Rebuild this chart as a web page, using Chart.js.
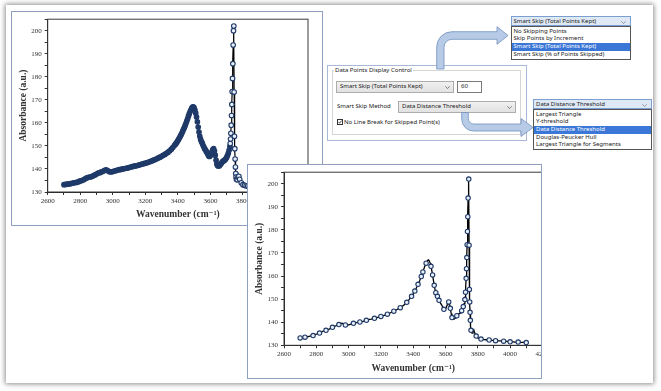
<!DOCTYPE html>
<html>
<head>
<meta charset="utf-8">
<script src="https://cdn.jsdelivr.net/npm/chart.js@4.4.0/dist/chart.umd.min.js"></script>
<style>
html, body { margin: 0; padding: 0; width: 661px; height: 391px; overflow: hidden; background: #fff; }
div, canvas, svg { position: absolute; box-sizing: border-box; }
#sheet { left: 6px; top: 5px; width: 647px; height: 378px; background: #fff; box-shadow: 0 0 5px 1px rgba(0,0,0,0.45); }
.panel { background: #fff; border: 1px solid #8e9fbf; overflow: hidden; }
.ui { font-family: "Noto Sans", sans-serif; font-size: 6px; color: #1a1a1a; white-space: nowrap; }
.combo { border: 1px solid #adadad; background: linear-gradient(#f0f0f0, #e2e2e2); padding-left: 3px; line-height: 9.5px; }
.combo svg { right: 3px; top: 4px; }
.list { background: #fff; border: 1px solid #555; }
.item { position: relative; height: 7.7px; line-height: 7.7px; padding-left: 2px; }
.sel { background: #3b77d6; color: #fff; }
.head { border: 1px solid #7a9fd0; background: #dfe9f6; padding-left: 2px; line-height: 8.5px; }
.head svg { right: 4px; top: 3.5px; }
</style>
</head>
<body>
<div id="sheet"></div>

<div class="panel" style="left:11px; top:11px; width:312px; height:215px;">
  <canvas id="fullChart" width="310" height="213" style="left:0; top:0;"></canvas>
</div>

<div style="left:327px; top:65px; width:200px; height:76px; border:1px solid #a8b8d8; background:#fff;"></div>
<div style="left:332px; top:70px; width:189px; height:65px; border:1px solid #d5d5d5;"></div>
<div class="ui" style="left:334px; top:66px; background:#fff; padding:0 1px; line-height:8px;">Data Points Display Control</div>
<div class="ui combo" style="left:336px; top:81px; width:118px; height:11.5px;">Smart Skip (Total Points Kept)
  <svg width="5" height="3"><polyline points="0.3,0.3 2.5,2.5 4.7,0.3" fill="none" stroke="#555" stroke-width="0.7"/></svg></div>
<div class="ui" style="left:457px; top:81px; width:25px; height:11.5px; border:1px solid #7a7a7a; background:#fff; padding-left:3px; line-height:9.5px;">60</div>
<div class="ui" style="left:337px; top:101px; line-height:11px;">Smart Skip Method</div>
<div class="ui combo" style="left:398px; top:101px; width:118px; height:11.5px;">Data Distance Threshold
  <svg width="5" height="3"><polyline points="0.3,0.3 2.5,2.5 4.7,0.3" fill="none" stroke="#555" stroke-width="0.7"/></svg></div>
<div style="left:336.5px; top:118.5px; width:6px; height:6px; border:1px solid #333; background:#fff;">
  <svg width="4" height="4" style="left:0; top:0;"><polyline points="0.5,2 1.6,3.2 3.6,0.6" fill="none" stroke="#222" stroke-width="0.8"/></svg></div>
<div class="ui" style="left:344px; top:117.5px; line-height:8px;">No Line Break for Skipped Point(s)</div>

<div style="left:510.5px; top:16px; width:120px;">
  <div class="ui head" style="position:relative; height:10px;">Smart Skip (Total Points Kept)
    <svg width="5" height="3"><polyline points="0.3,0.3 2.5,2.5 4.7,0.3" fill="none" stroke="#777" stroke-width="0.7"/></svg></div>
  <div class="ui list" style="position:relative; padding:0.5px 0;">
    <div class="item">No Skipping Points</div>
    <div class="item">Skip Points by Increment</div>
    <div class="item sel">Smart Skip (Total Points Kept)</div>
    <div class="item">Smart Skip (% of Points Skipped)</div>
  </div>
</div>

<div style="left:533px; top:99px; width:119px;">
  <div class="ui head" style="position:relative; height:10px;">Data Distance Threshold
    <svg width="5" height="3"><polyline points="0.3,0.3 2.5,2.5 4.7,0.3" fill="none" stroke="#777" stroke-width="0.7"/></svg></div>
  <div class="ui list" style="position:relative; padding:0.5px 0;">
    <div class="item">Largest Triangle</div>
    <div class="item">Y-threshold</div>
    <div class="item sel">Data Distance Threshold</div>
    <div class="item">Douglas-Peucker Hull</div>
    <div class="item">Largest Triangle for Segments</div>
  </div>
</div>

<svg width="661" height="391" style="left:0; top:0;">
  <path d="M436.7 69 L436.7 47 A15.3 15.3 0 0 1 452 31.7 L497 31.7 L497 26.7 L508 35.5 L497 44.3 L497 39.3 L452 39.3 A8 8 0 0 0 444 47.3 L444 69 Z"
        fill="#b7cbe6" stroke="#6f8fbf" stroke-width="0.8"/>
  <path d="M461.7 112.5 L461.7 119 A12 12 0 0 0 473.7 131 L521 131 L521 136.5 L533 127.5 L521 118.5 L521 124 L473.7 124 A5.4 5.4 0 0 1 468.3 118.6 L468.3 112.5 Z"
        fill="#b7cbe6" stroke="#6f8fbf" stroke-width="0.8"/>
</svg>

<div class="panel" style="left:247px; top:164px; width:295px; height:215px;">
  <canvas id="skipChart" width="312" height="213" style="left:0; top:0;"></canvas>
</div>

<script>
// full spectrum
const wavenumber = [
    2700, 2710, 2720, 2730, 2740, 2750, 2760, 2770, 2780, 2790,
    2800, 2810, 2820, 2830, 2840, 2850, 2860, 2870, 2880, 2890,
    2900, 2910, 2920, 2930, 2940, 2950, 2960, 2970, 2980, 2990,
    3000, 3010, 3020, 3030, 3040, 3050, 3060, 3070, 3080, 3090,
    3100, 3110, 3120, 3130, 3140, 3150, 3160, 3170, 3180, 3190,
    3200, 3210, 3220, 3230, 3240, 3250, 3260, 3270, 3280, 3290,
    3300, 3310, 3320, 3330, 3340, 3350, 3360, 3370,
    3380, 3385, 3390, 3395, 3400, 3405, 3410, 3415, 3420, 3425,
    3430, 3435, 3440, 3445, 3450, 3455, 3460, 3465, 3470, 3475,
    3480, 3485, 3490, 3495, 3500, 3505, 3510, 3515, 3520, 3525,
    3530, 3535, 3540, 3545, 3550, 3555, 3560, 3565, 3570, 3575,
    3580, 3585, 3590, 3595, 3600, 3605, 3610, 3615, 3620, 3625,
    3630, 3635, 3640, 3645, 3650, 3655, 3660, 3665, 3670, 3675,
    3680, 3685, 3690, 3695, 3700, 3705, 3710, 3715, 3720,
    3722, 3724, 3726, 3728, 3730, 3732, 3734, 3736, 3738, 3740,
    3742, 3744, 3746, 3748, 3750, 3752, 3754, 3756, 3758, 3760,
    3765, 3770, 3775, 3780, 3790,
    3800, 3810, 3820, 3830, 3840, 3850, 3860, 3870, 3880, 3890,
    3900, 3910, 3920, 3930, 3940, 3950, 3960, 3970, 3980, 3990,
    4000, 4010, 4020, 4030, 4040, 4050, 4060, 4070, 4080, 4090,
    4100
];
const absorbance = [
    133.2, 133.3, 133.4, 133.5, 133.6, 133.8, 134.0, 134.1, 134.2, 134.5,
    134.8, 135.0, 135.3, 135.7, 136.1, 136.4, 136.5, 136.7, 137.0, 137.4,
    137.8, 138.2, 138.4, 138.7, 139.0, 139.4, 139.6, 139.2, 138.8, 138.7,
    138.9, 139.1, 139.3, 139.5, 139.7, 139.8, 140.0, 140.1, 140.3, 140.4,
    140.6, 140.8, 141.0, 141.2, 141.3, 141.5, 141.7, 141.9, 142.1, 142.3,
    142.5, 142.7, 143.0, 143.2, 143.5, 143.8, 144.1, 144.4, 144.8, 145.1,
    145.5, 145.9, 146.3, 146.8, 147.3, 147.9, 148.6, 149.4,
    150.3, 150.7, 151.2, 151.7, 152.3, 152.9, 153.5, 154.2, 154.9, 155.6,
    156.4, 157.2, 158.0, 158.9, 159.8, 160.8, 161.8, 162.9, 163.9, 164.8,
    165.6, 166.3, 166.8, 167.0, 166.5, 165.6, 164.2, 162.5, 160.5, 158.2,
    156.0, 154.2, 152.8, 151.9, 151.2, 150.3, 149.5, 148.8, 148.2, 147.6,
    147.0, 146.3, 145.6, 145.4, 145.8, 146.5, 147.5, 148.4, 148.8, 147.8,
    146.0, 143.8, 142.0, 141.4, 141.3, 141.4, 141.8, 142.3, 142.8, 143.2,
    143.5, 143.7, 144.0, 144.4, 145.0, 145.8, 146.8, 148.1, 149.8,
    151.0, 153.0, 155.5, 159.0, 163.2, 168.0, 173.6, 179.3, 185.7, 193.8,
    200.0, 202.0, 173.4, 154.2, 148.8, 144.3, 140.8, 138.0, 136.5, 135.5,
    135.3, 136.5, 136.8, 135.5, 134.0,
    133.2, 132.9, 132.7, 132.6, 132.5, 132.4, 132.3, 132.3, 132.2, 132.1,
    132.1, 132.0, 132.0, 131.9, 131.9, 131.8, 131.8, 131.7, 131.7, 131.6,
    131.5, 131.5, 131.5, 131.4, 131.4, 131.4, 131.3, 131.3, 131.3, 131.3,
    131.2
];

// 60 points kept by smart skip
const keptWavenumber = [
    2700, 2730, 2780, 2820, 2860, 2900, 2940, 2980, 3030, 3070,
    3110, 3160, 3200, 3240, 3280, 3320, 3360, 3390, 3410, 3430,
    3450, 3460, 3480, 3510, 3520, 3530, 3540, 3550, 3560, 3590,
    3620, 3630, 3640, 3670, 3700, 3710, 3720, 3724, 3728, 3730,
    3732, 3734, 3736, 3738, 3740, 3744, 3746, 3748, 3750, 3752,
    3754, 3758, 3790, 3820, 3870, 3910, 3960, 4000, 4050, 4100
];
const keptAbsorbance = [
    133.2, 133.5, 134.2, 135.3, 136.5, 137.8, 139.0, 138.8, 139.5, 140.1,
    140.8, 141.7, 142.5, 143.5, 144.8, 146.3, 148.6, 151.2, 153.5, 156.4,
    159.8, 161.8, 165.6, 164.2, 160.5, 156.0, 152.8, 151.2, 149.5, 145.6,
    148.8, 146.0, 142.0, 142.8, 145.0, 146.8, 149.8, 153.0, 159.0, 163.2,
    168.0, 173.6, 179.3, 185.7, 193.8, 202.0, 173.4, 154.2, 148.8, 144.3,
    140.8, 136.5, 134.0, 132.7, 132.3, 132.0, 131.8, 131.5, 131.4, 131.2
];

const xTickLabels = [2600, 2800, 3000, 3200, 3400, 3600, 3800, 4000, 4200];
const yTickLabels = [130, 140, 150, 160, 170, 180, 190, 200];

const navy = "#1f3a68";
const pale = "#e9eff8";

const toPoints = (xs, ys) => xs.map((x, i) => ({ x: x, y: ys[i] }));

const frameBox = {
    id: "frameBox",
    beforeDatasetsDraw(chart) {
        const { ctx, chartArea: a } = chart;
        ctx.save();
        ctx.strokeStyle = "#3a3a3a";
        ctx.lineWidth = 1;
        ctx.strokeRect(a.left, a.top, a.right - a.left, a.bottom - a.top);
        ctx.restore();
    }
};

function makeScales(xHeight, yWidth, titleBottom) {
    const serif = "'Liberation Serif', 'DejaVu Serif', serif";
    return {
        x: {
            type: "linear",
            min: 2600,
            max: 4200,
            afterFit: (s) => { s.height = xHeight; },
            border: { display: true, color: "#222", width: 1 },
            grid: { drawOnChartArea: false, drawTicks: true, tickLength: 3, color: "#333" },
            ticks: {
                stepSize: 100,
                autoSkip: false,
                maxRotation: 0,
                padding: 1.5,
                color: "#333",
                font: { family: serif, size: 7 },
                callback: (v) => xTickLabels.includes(v) ? v : ""
            },
            title: {
                display: true,
                text: "Wavenumber (cm⁻¹)",
                color: "#333",
                font: { family: serif, size: 9.5, weight: "bold" },
                padding: { top: 0, bottom: titleBottom }
            }
        },
        y: {
            type: "linear",
            min: 130,
            max: 205,
            afterFit: (s) => { s.width = yWidth; },
            border: { display: true, color: "#222", width: 1 },
            grid: { drawOnChartArea: false, drawTicks: true, tickLength: 3, color: "#333" },
            ticks: {
                stepSize: 5,
                autoSkip: false,
                padding: 3,
                color: "#333",
                font: { family: serif, size: 7 },
                callback: (v) => yTickLabels.includes(v) ? v : ""
            },
            title: {
                display: true,
                text: "Absorbance (a.u.)",
                color: "#333",
                font: { family: serif, size: 9.5, weight: "bold" },
                padding: { top: 5.4, bottom: 0 }
            }
        }
    };
}

new Chart(document.getElementById("fullChart").getContext("2d"), {
    type: "line",
    data: {
        datasets: [{
            label: "Full",
            data: toPoints(wavenumber, absorbance),
            borderColor: "#000",
            borderWidth: 1.2,
            tension: 0,
            pointRadius: 2.3,
            pointBorderWidth: 1.1,
            pointBorderColor: navy,
            // the crowded part reads as a solid band, the sparse peak stays hollow
            pointBackgroundColor: (c) => (c.raw && c.raw.x >= 3721) ? pale : navy
        }]
    },
    options: {
        responsive: false,
        animation: false,
        devicePixelRatio: 1,
        layout: { padding: { top: 3.7, right: 14, left: 0, bottom: 0 } },
        plugins: { legend: { display: false }, tooltip: { enabled: false } },
        scales: makeScales(33, 35.7, 4.4)
    },
    plugins: [frameBox]
});

new Chart(document.getElementById("skipChart").getContext("2d"), {
    type: "line",
    data: {
        datasets: [
            {
                label: "Kept",
                data: toPoints(keptWavenumber, keptAbsorbance),
                showLine: false,
                pointRadius: 2.2,
                pointBorderWidth: 1.1,
                pointBorderColor: navy,
                pointBackgroundColor: pale
            },
            {
                label: "Line",
                data: toPoints(wavenumber, absorbance),
                borderColor: "#000",
                borderWidth: 1.3,
                pointRadius: 0,
                tension: 0
            }
        ]
    },
    options: {
        responsive: false,
        animation: false,
        devicePixelRatio: 1,
        layout: { padding: { top: 4.3, right: 17.6, left: 0, bottom: 0 } },
        plugins: { legend: { display: false }, tooltip: { enabled: false } },
        scales: makeScales(32.7, 36, 3.4)
    },
    plugins: [frameBox]
});
</script>
</body>
</html>
